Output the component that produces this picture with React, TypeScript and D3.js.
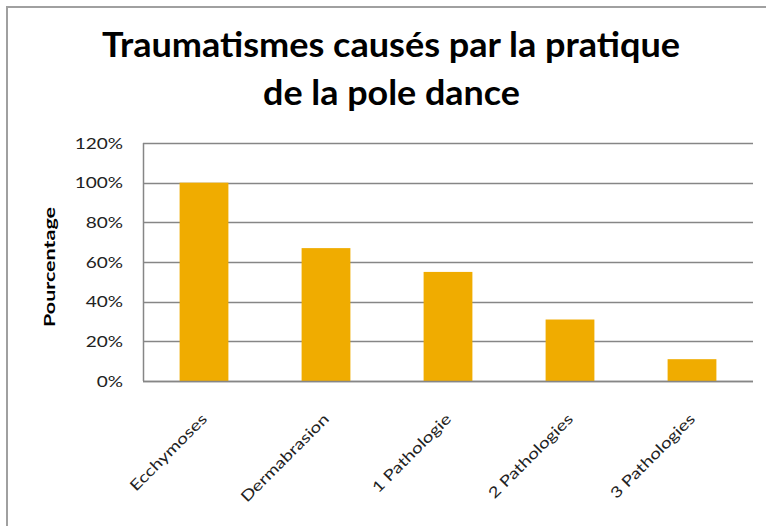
import React from "react";
import * as d3 from "d3";

const categories = ["Ecchymoses", "Dermabrasion", "1 Pathologie", "2 Pathologies", "3 Pathologies"];
const values = [1.0, 0.67, 0.55, 0.31, 0.11];
const yTicks = [0, 0.2, 0.4, 0.6, 0.8, 1.0, 1.2];
const titleLines = ["Traumatismes causés par la pratique", "de la pole dance"];
const yAxisTitle = "Pourcentage";

export default function App() {
  const W = 766, H = 526;
  const left = 143, right = 753, top = 143, bottom = 381;
  const x = d3.scaleBand<string>().domain(categories).range([left, right]).paddingInner(0.6).paddingOuter(0.3);
  const y = d3.scaleLinear().domain([0, 1.2]).range([bottom, top]);
  const fmt = d3.format(".0%");
  const font = "Lato, 'Open Sans', sans-serif";
  const sx = 1.27;
  return (
    <svg width={W} height={H} style={{ position: "absolute", left: 0, top: 0 }} fontFamily={font}>
      <rect x={0} y={0} width={W} height={H} fill="#fff" />
      <rect x={7} y={7} width={W + 20} height={H + 20} fill="none" stroke="#a0a0a0" strokeWidth={2} />
      <text x={391} y={57} textAnchor="middle" fontSize={34} fontWeight="bold" fill="#000" textLength={578} lengthAdjust="spacingAndGlyphs">{titleLines[0]}</text>
      <text x={391.5} y={105} textAnchor="middle" fontSize={34} fontWeight="bold" fill="#000" textLength={257} lengthAdjust="spacingAndGlyphs">{titleLines[1]}</text>
      {yTicks.map((t) => (
        <g key={t}>
          <line x1={left} x2={right} y1={Math.round(y(t)) + 0.5} y2={Math.round(y(t)) + 0.5} stroke="#868686" strokeWidth={1.5} />
          <text transform={`translate(123,${y(t) + 5.5}) scale(${sx},1)`} textAnchor="end" fontSize={15} fill="#222">{fmt(t)}</text>
        </g>
      ))}
      <line x1={left + 0.5} x2={left + 0.5} y1={top} y2={bottom} stroke="#868686" strokeWidth={1.5} />
      {categories.map((c, i) => (
        <rect key={c} x={x(c)!} y={y(values[i])} width={x.bandwidth()} height={bottom - y(values[i])} fill="#F0AC00" />
      ))}
      <line x1={left} x2={right} y1={bottom + 0.5} y2={bottom + 0.5} stroke="#868686" strokeWidth={1.5} />
      {categories.map((c) => {
        const cx = x(c)! + x.bandwidth() / 2;
        return (
          <text key={c} transform={`translate(${cx + 4},${420}) rotate(-45) scale(${sx},1)`} textAnchor="end" fontSize={15} fill="#222">{c}</text>
        );
      })}
      <text transform={`translate(55,267) rotate(-90)`} textAnchor="middle" fontSize={16} fontWeight="bold" fill="#000" textLength={120} lengthAdjust="spacingAndGlyphs">{yAxisTitle}</text>
    </svg>
  );
}
